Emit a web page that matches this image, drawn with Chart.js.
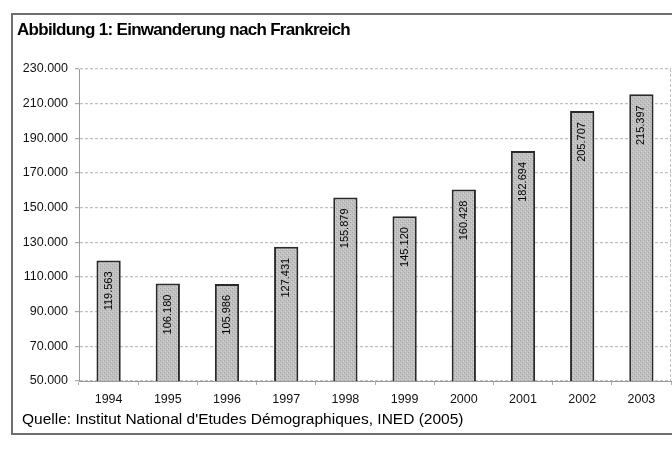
<!DOCTYPE html>
<html lang="de">
<head>
<meta charset="utf-8">
<title>Einwanderung nach Frankreich</title>
<script src="https://cdn.jsdelivr.net/npm/chart.js@4"></script>
<style>
  html, body { margin: 0; padding: 0; background: #fff; overflow: hidden; }
  #wrap { position: relative; width: 672px; height: 457px; font-family: "Liberation Sans", Arial, sans-serif; }
  #frame { position: absolute; left: 11px; top: 13px; width: 700px; height: 422px; border: 2px solid #6e6e6e; box-sizing: border-box; }
  #title { position: absolute; left: 17px; top: 19.5px; font-size: 17px; letter-spacing: -0.7px; font-weight: bold; color: #000; white-space: nowrap; }
  #source { position: absolute; left: 22px; top: 410px; font-size: 15.5px; color: #000; white-space: nowrap; }
  #myChart { position: absolute; left: 0; top: 0; }
</style>
</head>
<body>
<div id="wrap">
  <div id="frame"></div>
  <canvas id="myChart" width="672" height="457"></canvas>
  <div id="title">Abbildung 1: Einwanderung nach Frankreich</div>
  <div id="source">Quelle: Institut National d'Etudes Démographiques, INED (2005)</div>
</div>
<script>
"use strict";

const years = ["1994", "1995", "1996", "1997", "1998", "1999", "2000", "2001", "2002", "2003"];
const immigrants = [119563, 106180, 105986, 127431, 155879, 145120, 160428, 182694, 205707, 215397];
const yTickValues = [50000, 70000, 90000, 110000, 130000, 150000, 170000, 190000, 210000, 230000];

// Tausenderpunkt wie im deutschen Format
function formatDe(value) {
    return String(value).replace(/\B(?=(\d{3})+(?!\d))/g, ".");
}

// kleines Punktraster für die Balkenfüllung
function makeStipple() {
    const c = document.createElement("canvas");
    c.width = 4;
    c.height = 4;
    const g = c.getContext("2d");
    g.fillStyle = "#c0c0c0";
    g.fillRect(0, 0, 4, 4);
    g.fillStyle = "#a4a4a4";
    g.fillRect(0, 0, 1, 1);
    g.fillRect(2, 2, 1, 1);
    g.fillStyle = "#d4d4d4";
    g.fillRect(1, 3, 1, 1);
    g.fillRect(3, 1, 1, 1);
    return g.createPattern(c, "repeat");
}

// Werte senkrecht in die Balken schreiben
const barLabels = {
    id: "barLabels",
    afterDatasetsDraw(chart) {
        const ctx = chart.ctx;
        const meta = chart.getDatasetMeta(0);
        ctx.save();
        ctx.font = "11px 'Liberation Sans', Arial, sans-serif";
        ctx.fillStyle = "#000";
        ctx.textAlign = "right";
        ctx.textBaseline = "middle";
        meta.data.forEach((bar, i) => {
            ctx.save();
            ctx.translate(bar.x, bar.y + 11);
            ctx.rotate(-Math.PI / 2);
            ctx.fillText(formatDe(immigrants[i]), 0, 0);
            ctx.restore();
        });
        // gestrichelte rechte Kante
        const area = chart.chartArea;
        ctx.strokeStyle = "#c0c0c0";
        ctx.lineWidth = 1;
        ctx.setLineDash([3, 2]);
        ctx.beginPath();
        ctx.moveTo(area.right - 0.5, area.top);
        ctx.lineTo(area.right - 0.5, area.bottom);
        ctx.stroke();
        ctx.restore();
    }
};

document.addEventListener("DOMContentLoaded", () => {
    const chartDiv = document.getElementById("myChart");

    new Chart(chartDiv, {
        type: "bar",
        data: {
            labels: years,
            datasets: [{
                data: immigrants,
                backgroundColor: makeStipple(),
                borderColor: "#2a2a2a",
                borderWidth: 2,
                borderSkipped: false,
                categoryPercentage: 1,
                barPercentage: 0.41
            }]
        },
        options: {
            responsive: false,
            animation: false,
            layout: { padding: { left: 12, top: 69, right: 1, bottom: 46 } },
            plugins: {
                legend: { display: false },
                tooltip: { enabled: false }
            },
            scales: {
                x: {
                    grid: { drawOnChartArea: false, drawTicks: true, tickLength: 4, color: "#aaa" },
                    border: { color: "#999", width: 1 },
                    ticks: {
                        padding: 7,
                        color: "#111",
                        font: { family: "'Liberation Sans', Arial, sans-serif", size: 12.5 }
                    },
                    afterFit(scale) { scale.height = 30; }
                },
                y: {
                    min: 50000,
                    max: 230000,
                    afterBuildTicks(scale) {
                        scale.ticks = yTickValues.map(v => ({ value: v }));
                    },
                    grid: { color: "#c0c0c0", lineWidth: 1.2, tickLength: 4, tickColor: "#aaa" },
                    border: { color: "#999", width: 1, dash: [3, 2] },
                    ticks: {
                        padding: 7,
                        color: "#111",
                        font: { family: "'Liberation Sans', Arial, sans-serif", size: 12.5 },
                        callback: value => formatDe(value)
                    },
                    afterFit(scale) { scale.width = 67; }
                }
            }
        },
        plugins: [barLabels]
    });
});
</script>
</body>
</html>
